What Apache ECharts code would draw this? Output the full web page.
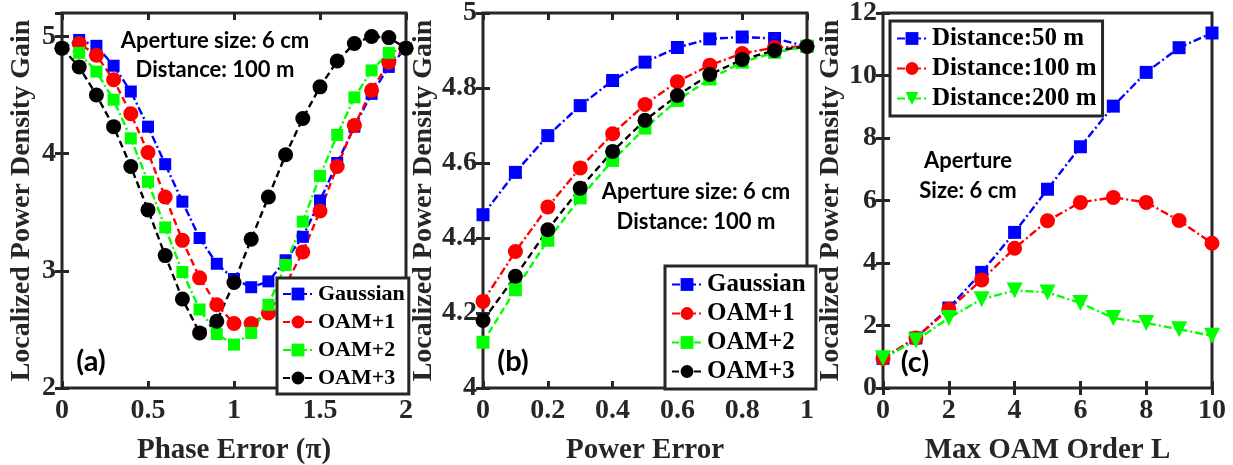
<!DOCTYPE html>
<html><head><meta charset="utf-8">
<script src="https://cdn.jsdelivr.net/npm/echarts@6/dist/echarts.min.js"></script>
<style>html,body{margin:0;padding:0;background:#fff;}#c{width:1233px;height:465px;}</style>
</head><body><div id="c"></div>
<script>
// ---- Panel (a): Phase error ----
const phaseX = [0,0.1,0.2,0.3,0.4,0.5,0.6,0.7,0.8,0.9,1.0,1.1,1.2,1.3,1.4,1.5,1.6,1.7,1.8,1.9,2.0];
const aGaussian = [4.90,4.97,4.92,4.75,4.53,4.23,3.91,3.59,3.28,3.06,2.93,2.86,2.91,3.09,3.29,3.60,3.92,4.23,4.51,4.74,4.90];
const aOAM1 = [4.90,4.94,4.84,4.63,4.34,4.01,3.63,3.26,2.94,2.71,2.55,2.55,2.64,2.88,3.16,3.51,3.89,4.24,4.54,4.78,4.90];
const aOAM2 = [4.90,4.86,4.70,4.46,4.13,3.76,3.37,2.99,2.67,2.46,2.37,2.47,2.71,3.05,3.42,3.81,4.16,4.48,4.71,4.86,4.90];
const aOAM3 = [4.90,4.74,4.50,4.23,3.89,3.52,3.13,2.76,2.47,2.57,2.90,3.27,3.63,3.99,4.30,4.57,4.79,4.94,5.00,4.99,4.90];

// ---- Panel (b): Power error ----
const powerX = [0,0.1,0.2,0.3,0.4,0.5,0.6,0.7,0.8,0.9,1.0];
const bGaussian = [4.462,4.575,4.673,4.753,4.820,4.869,4.908,4.931,4.936,4.932,4.911];
const bOAM1 = [4.231,4.364,4.483,4.587,4.678,4.756,4.817,4.861,4.892,4.908,4.911];
const bOAM2 = [4.122,4.262,4.394,4.507,4.607,4.693,4.767,4.824,4.869,4.895,4.911];
const bOAM3 = [4.180,4.298,4.422,4.533,4.631,4.714,4.780,4.836,4.876,4.900,4.911];

// ---- Panel (c): Max OAM order ----
const orderX = [0,1,2,3,4,5,6,7,8,9,10];
const c50 = [0.95,1.60,2.56,3.70,4.98,6.36,7.72,9.02,10.10,10.89,11.36];
const c100 = [0.95,1.60,2.52,3.46,4.47,5.35,5.94,6.10,5.94,5.36,4.63];
const c200 = [0.95,1.52,2.24,2.84,3.12,3.06,2.72,2.24,2.08,1.88,1.67];

const seriesNamesA = ['Gaussian','OAM+1','OAM+2','OAM+3'];
const seriesNamesC = ['Distance:50 m','Distance:100 m','Distance:200 m'];
const annotation1 = 'Aperture size: 6 cm';
const annotation2 = 'Distance: 100 m';
const yName = 'Localized Power Density Gain';

const pairs = (xs, ys) => xs.map((x, i) => [x, ys[i]]);
const FR = '#262626';
const SERIF = '"Liberation Serif", "DejaVu Serif", serif';
const SANS = 'Lato, "Open Sans", sans-serif';
const DASHDOT = [8,3,2,3];
const DASH = [7,4];

const grids = [
  {left: 62, top: 13, width: 344, height: 375},
  {left: 483, top: 13, width: 324, height: 375},
  {left: 883, top: 13, width: 329, height: 375}
];

const tickLabel = {margin:10, fontFamily:SERIF, fontWeight:'bold', fontSize:28, color:FR};

function mainX(gi, name, min, max, interval) {
  return {type:'value', gridIndex: gi, min, max, interval, position:'bottom',
    name, nameLocation:'middle', nameGap: 48,
    nameTextStyle:{fontFamily:SERIF, fontWeight:'bold', fontSize:29, color:FR},
    axisLine:{show:false}, splitLine:{show:false},
    axisTick:{inside:true, length:7, lineStyle:{color:FR, width:3}},
    axisLabel: Object.assign({}, tickLabel, {margin: 9})};
}
function mirrorX(gi, min, max, interval) {
  return {type:'value', gridIndex: gi, min, max, interval, position:'top',
    axisLine:{show:false}, splitLine:{show:false}, axisLabel:{show:false},
    axisTick:{inside:true, length:7, lineStyle:{color:FR, width:3}}};
}
function mainY(gi, min, max, interval, hideMax) {
  return {type:'value', gridIndex: gi, min, max, interval, position:'left',
    name: yName, nameLocation:'middle', nameGap: 26,
    nameTextStyle:{fontFamily:SERIF, fontWeight:'bold', fontSize:28, color:FR},
    axisLine:{show:false}, splitLine:{show:false},
    axisTick:{inside:true, length:7, lineStyle:{color:FR, width:3}},
    axisLabel: Object.assign({}, tickLabel, {margin: 6, showMaxLabel: !hideMax})};
}
function mirrorY(gi, min, max, interval) {
  return {type:'value', gridIndex: gi, min, max, interval, position:'right',
    axisLine:{show:false}, splitLine:{show:false}, axisLabel:{show:false},
    axisTick:{inside:true, length:7, lineStyle:{color:FR, width:3}}};
}

function line(name, xi, data, color, symbol, size, dash, rotate) {
  return {type:'line', name, xAxisIndex: xi, yAxisIndex: xi, data,
    symbol, symbolSize: size, symbolRotate: rotate || 0, showAllSymbol: true,
    itemStyle:{color: color, borderColor: color, borderWidth: 0},
    lineStyle:{color: color, width: 2.4, type: dash},
    emphasis:{disabled:true}, animation:false, z: 3};
}

const legendBase = {orient:'vertical', backgroundColor:'#fff', borderColor:FR, borderWidth:3,
  itemWidth: 30, itemHeight: 16, selectedMode:false};

const txt = (text, x, y, size, weight) => ({type:'text', x, y, z: 100,
  style:{text, fill:'#000', font: (weight||'bold') + ' ' + size + 'px ' + SANS, textAlign:'center', textVerticalAlign:'middle'}});

const option = {
  backgroundColor:'#fff',
  animation:false,
  grid: grids.map(g => Object.assign({show:true, borderColor:FR, borderWidth:3, backgroundColor:'transparent',
    containLabel:false, outerBoundsMode:'none'}, g)),
  xAxis: [
    mainX(0, 'Phase Error (\u03c0)', 0, 2, 0.5),
    mainX(1, 'Power Error', 0, 1, 0.2),
    mainX(2, 'Max OAM Order L', 0, 10, 2),
    mirrorX(0, 0, 2, 0.5), mirrorX(1, 0, 1, 0.2), mirrorX(2, 0, 10, 2)
  ],
  yAxis: [
    mainY(0, 2, 5.2, 1, true),
    mainY(1, 4, 5, 0.2),
    mainY(2, 0, 12, 2),
    mirrorY(0, 2, 5.2, 1), mirrorY(1, 4, 5, 0.2), mirrorY(2, 0, 12, 2)
  ],
  legend: [
    Object.assign({}, legendBase, {data: seriesNamesA, left: 277, top: 278, padding:[5,4,5,5], itemGap: 6,
      textStyle:{fontFamily:SERIF, fontWeight:'bold', color:'#000', fontSize:22}}),
    Object.assign({}, legendBase, {data: seriesNamesA.map(n => n + ' '), left: 665, top: 266, padding:[6,4,5,6], itemGap: 4,
      textStyle:{fontFamily:SERIF, fontWeight:'bold', color:'#000', fontSize:25}}),
    Object.assign({}, legendBase, {data: seriesNamesC, left: 890, top: 21, padding:[5,6,5,6], itemGap: 5,
      textStyle:{fontFamily:SERIF, fontWeight:'bold', color:'#000', fontSize:25}})
  ],
  series: [
    line(seriesNamesA[0], 0, pairs(phaseX, aGaussian), '#0000ff', 'rect', 12, DASHDOT),
    line(seriesNamesA[1], 0, pairs(phaseX, aOAM1), '#ff0000', 'circle', 15, DASH),
    line(seriesNamesA[2], 0, pairs(phaseX, aOAM2), '#00ff00', 'rect', 12, DASHDOT),
    line(seriesNamesA[3], 0, pairs(phaseX, aOAM3), '#000000', 'circle', 15, DASH),
    line(seriesNamesA[0] + ' ', 1, pairs(powerX, bGaussian), '#0000ff', 'rect', 13, DASHDOT),
    line(seriesNamesA[1] + ' ', 1, pairs(powerX, bOAM1), '#ff0000', 'circle', 15, DASHDOT),
    line(seriesNamesA[2] + ' ', 1, pairs(powerX, bOAM2), '#00ff00', 'rect', 13, DASH),
    line(seriesNamesA[3] + ' ', 1, pairs(powerX, bOAM3), '#000000', 'circle', 15, DASH),
    line(seriesNamesC[0], 2, pairs(orderX, c50), '#0000ff', 'rect', 13, DASHDOT),
    line(seriesNamesC[1], 2, pairs(orderX, c100), '#ff0000', 'circle', 15, DASHDOT),
    line(seriesNamesC[2], 2, pairs(orderX, c200), '#00ff00', 'triangle', 16, DASHDOT, 180)
  ],
  graphic: [
    txt(annotation1, 215, 41, 22), txt(annotation2, 215, 70, 22),
    txt(annotation1, 696, 192, 22), txt(annotation2, 696, 222, 22),
    txt('Aperture', 968, 161, 22), txt('Size: 6 cm', 968, 191, 22),
    txt('(a)', 91, 362, 29, 'bold'), txt('(b)', 513, 362, 29, 'bold'), txt('(c)', 915, 363, 29, 'bold')
  ]
};
const chart = echarts.init(document.getElementById('c'), null, {renderer:'canvas'});
chart.setOption(option);
</script></body></html>
